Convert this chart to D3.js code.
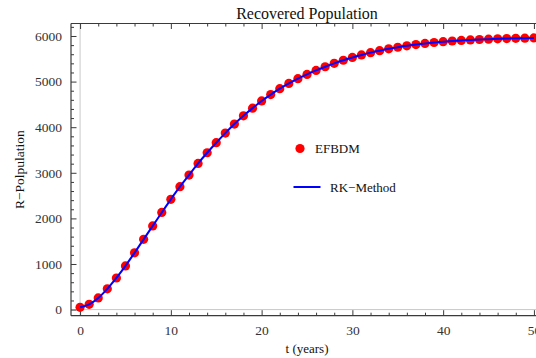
<!DOCTYPE html>
<html>
<head>
<meta charset="utf-8">
<script src="https://cdn.jsdelivr.net/npm/d3@7"></script>
<style>
  html, body { margin: 0; padding: 0; background: #fff; }
  svg { display: block; }
  text { font-family: "Liberation Serif", "Times New Roman", serif; }
</style>
</head>
<body>
<svg id="chart" width="536" height="358"></svg>
<script>
// ---- data ----
const tValues = d3.range(0, 51);
const efbdmValues = [50, 115, 255, 455, 693, 958, 1245, 1540, 1835, 2130,
  2418, 2695, 2950, 3205, 3440, 3660, 3870, 4068, 4250, 4418,
  4575, 4715, 4845, 4960, 5065, 5158, 5245, 5325, 5400, 5468,
  5530, 5585, 5635, 5678, 5718, 5753, 5785, 5812, 5836, 5857,
  5875, 5890, 5903, 5914, 5923, 5931, 5938, 5944, 5949, 5953, 5957];
const rkValues = [50, 115, 255, 455, 693, 958, 1245, 1540, 1835, 2130,
  2418, 2695, 2950, 3205, 3440, 3660, 3870, 4068, 4250, 4418,
  4575, 4715, 4845, 4960, 5065, 5158, 5245, 5325, 5400, 5468,
  5530, 5585, 5635, 5678, 5718, 5753, 5785, 5812, 5836, 5857,
  5875, 5890, 5903, 5914, 5923, 5931, 5938, 5944, 5949, 5953, 5957];
const xMajorTicks = [0, 10, 20, 30, 40, 50];
const yMajorTicks = [0, 1000, 2000, 3000, 4000, 5000, 6000];
const seriesNames = ["EFBDM", "RK\u2212Method"];
const titleText = "Recovered Population";
const xLabel = "t (years)";
const yLabel = "R\u2212Polpulation";

// ---- layout ----
const pLeft = 71, pRight = 543, pTop = 23.5, pBottom = 315.7;
const svg = d3.select("#chart");
const x = d3.scaleLinear().domain([-1, 51]).range([pLeft, pRight]);
const y = d3.scaleLinear().domain([-134, 6274]).range([pBottom, pTop]);

const frameColor = "#3a3a3a";
const labelColor = "#333";

// gray zero axes
svg.append("line").attr("x1", pLeft).attr("x2", pRight)
  .attr("y1", y(0)).attr("y2", y(0))
  .attr("stroke", "#c8c8c8").attr("stroke-width", 1);
svg.append("line").attr("x1", x(0)).attr("x2", x(0))
  .attr("y1", pTop).attr("y2", pBottom)
  .attr("stroke", "#c8c8c8").attr("stroke-width", 1);

// frame axes
const xMinor = d3.range(0, 51, 2).filter(v => v % 10 !== 0);
const yMinor = d3.range(0, 6201, 200).filter(v => v % 1000 !== 0);

function styleAxis(g) {
  g.select(".domain").remove();
  g.selectAll(".tick line").attr("stroke", frameColor).attr("stroke-width", 1);
  g.selectAll(".tick text").attr("fill", labelColor)
    .style("font-size", "13.5px")
    .style("font-family", '"Liberation Serif", "Times New Roman", serif');
}

// bottom
svg.append("g").attr("transform", `translate(0,${pBottom})`)
  .call(d3.axisBottom(x).tickValues(xMajorTicks).tickSize(-5.5).tickPadding(10).tickFormat(d3.format("d")))
  .call(styleAxis);
svg.append("g").attr("transform", `translate(0,${pBottom})`)
  .call(d3.axisBottom(x).tickValues(xMinor).tickSize(-3).tickFormat(""))
  .call(styleAxis);
// top
svg.append("g").attr("transform", `translate(0,${pTop})`)
  .call(d3.axisTop(x).tickValues(xMajorTicks).tickSize(-5.5).tickFormat(""))
  .call(styleAxis);
svg.append("g").attr("transform", `translate(0,${pTop})`)
  .call(d3.axisTop(x).tickValues(xMinor).tickSize(-3).tickFormat(""))
  .call(styleAxis);
// left
svg.append("g").attr("transform", `translate(${pLeft},0)`)
  .call(d3.axisLeft(y).tickValues(yMajorTicks).tickSize(-5.5).tickPadding(9).tickFormat(d3.format("d")))
  .call(styleAxis);
svg.append("g").attr("transform", `translate(${pLeft},0)`)
  .call(d3.axisLeft(y).tickValues(yMinor).tickSize(-3).tickFormat(""))
  .call(styleAxis);

// frame lines
svg.append("line").attr("x1", pLeft).attr("x2", pRight).attr("y1", pBottom).attr("y2", pBottom)
  .attr("stroke", frameColor).attr("stroke-width", 1.2);
svg.append("line").attr("x1", pLeft).attr("x2", pRight).attr("y1", pTop).attr("y2", pTop)
  .attr("stroke", frameColor).attr("stroke-width", 1.2);
svg.append("line").attr("x1", pLeft).attr("x2", pLeft).attr("y1", pTop).attr("y2", pBottom)
  .attr("stroke", frameColor).attr("stroke-width", 1.2);

// points
svg.append("g").selectAll("circle").data(tValues).join("circle")
  .attr("cx", (d, i) => x(d)).attr("cy", (d, i) => y(efbdmValues[i]))
  .attr("r", 4.6).attr("fill", "#ff0000");

// line
const line = d3.line().x(d => x(d[0])).y(d => y(d[1])).curve(d3.curveMonotoneX);
svg.append("path").datum(tValues.map((t, i) => [t, rkValues[i]]))
  .attr("d", line).attr("fill", "none").attr("stroke", "#0000ff").attr("stroke-width", 2);

// title and labels
svg.append("text").attr("x", 307).attr("y", 19).attr("text-anchor", "middle")
  .style("font-size", "16px").attr("fill", "#111").text(titleText);
svg.append("text").attr("x", 307).attr("y", 353).attr("text-anchor", "middle")
  .style("font-size", "13px").attr("fill", "#111").text(xLabel);
svg.append("text").attr("transform", `translate(24,${(pTop + pBottom) / 2}) rotate(-90)`)
  .attr("text-anchor", "middle").style("font-size", "13.5px").attr("fill", "#111").text(yLabel);

// legend
svg.append("circle").attr("cx", 300).attr("cy", 148.5).attr("r", 4.6).attr("fill", "#ff0000");
svg.append("text").attr("x", 315).attr("y", 153).style("font-size", "13px").attr("fill", "#111").text(seriesNames[0]);
svg.append("line").attr("x1", 293.5).attr("x2", 320.5).attr("y1", 187).attr("y2", 187)
  .attr("stroke", "#0000ff").attr("stroke-width", 2);
svg.append("text").attr("x", 330).attr("y", 191.5).style("font-size", "13px").attr("fill", "#111").text(seriesNames[1]);
</script>
</body>
</html>
